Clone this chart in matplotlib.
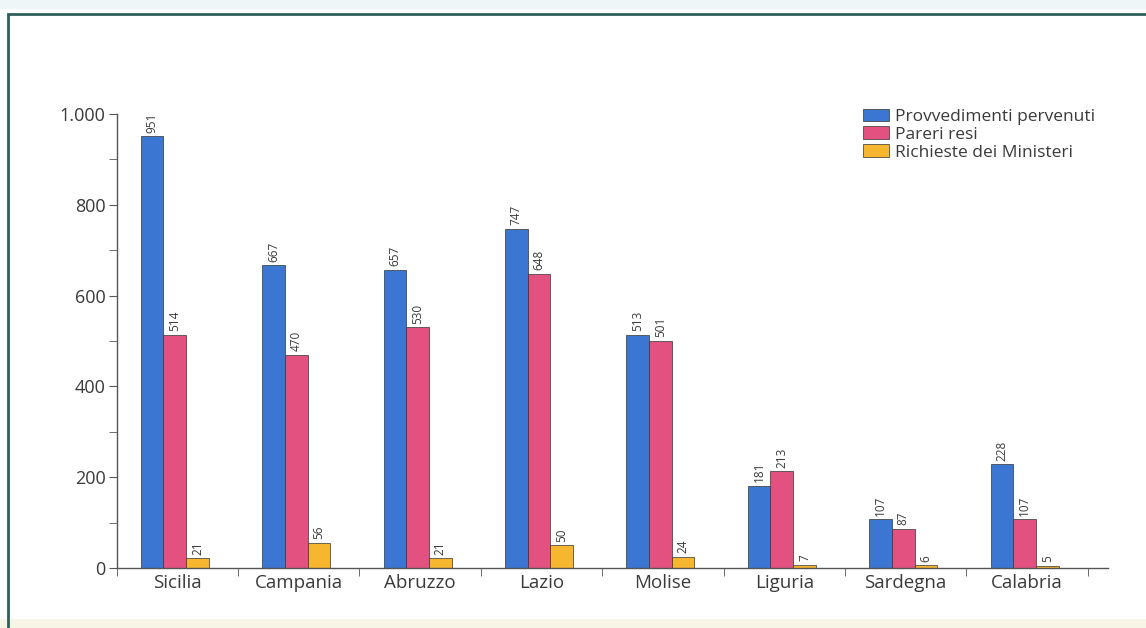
import matplotlib
matplotlib.use("Agg")
import matplotlib.pyplot as plt
from matplotlib.patches import Rectangle
from matplotlib.ticker import MultipleLocator, FixedLocator, FuncFormatter
import numpy as np

categories = ["Sicilia", "Campania", "Abruzzo", "Lazio", "Molise", "Liguria", "Sardegna", "Calabria"]
provvedimenti = [951, 667, 657, 747, 513, 181, 107, 228]
pareri = [514, 470, 530, 648, 501, 213, 87, 107]
richieste = [21, 56, 21, 50, 24, 7, 6, 5]
series_names = ["Provvedimenti pervenuti", "Pareri resi", "Richieste dei Ministeri"]
colors = ["#3b76d2", "#e2517f", "#f6b62f"]

plt.rcParams['font.family'] = ['Open Sans', 'DejaVu Sans']
text_color = "#3a3a3a"

fig = plt.figure(figsize=(11.46, 6.28), dpi=100)
fig.patch.set_facecolor("white")

# outer frame
fig.add_artist(Rectangle((0, 0.985), 1, 0.015, transform=fig.transFigure, facecolor="#eef6f8", edgecolor="none"))
fig.add_artist(Rectangle((0, 0.0), 1, 0.014, transform=fig.transFigure, facecolor="#f7f6e6", edgecolor="none"))
fig.add_artist(Rectangle((8/1146, -0.1), 1.2, 1.1 - 14/628, transform=fig.transFigure, facecolor="none",
                         edgecolor="#2f5f5a", linewidth=2.0))

step = 121.4
left_px, right_px = 116.5, 1108
ax = fig.add_axes([left_px/1146, 1-568/628, (right_px-left_px)/1146, (568-114)/628])
x = np.arange(len(categories))
w = 0.187
data = [provvedimenti, pareri, richieste]
for i, (vals, c, name) in enumerate(zip(data, colors, series_names)):
    pos = x - 0.02 + (i - 1) * w
    ax.bar(pos, vals, width=w, color=c, edgecolor="#333333", linewidth=0.5, label=name)
    for p, v in zip(pos, vals):
        ax.text(p, v + 8, str(v), rotation=90, ha="center", va="bottom", fontsize=8.5, color=text_color)

ax.set_xlim(-0.5, (right_px-left_px)/step - 0.5)
ax.set_ylim(0, 1000)
for s in ["top", "right"]:
    ax.spines[s].set_visible(False)
for s in ["left", "bottom"]:
    ax.spines[s].set_color("#555555")
    ax.spines[s].set_linewidth(1.0)

ax.yaxis.set_major_locator(MultipleLocator(200))
ax.yaxis.set_minor_locator(MultipleLocator(100))
ax.yaxis.set_major_formatter(FuncFormatter(lambda v, p: f"{int(v):,}".replace(",", ".")))
ax.tick_params(axis="y", which="major", length=6, color="#555555", labelsize=13, labelcolor=text_color, pad=2)
ax.tick_params(axis="y", which="minor", length=6, color="#555555")

ax.set_xticks(x)
ax.set_xticklabels(categories)
ax.tick_params(axis="x", which="major", length=0, labelsize=13.5, labelcolor=text_color, pad=4)
ax.xaxis.set_minor_locator(FixedLocator(np.arange(len(categories) + 1) - 0.5))
ax.tick_params(axis="x", which="minor", length=6, color="#555555", direction="out")

leg = ax.legend(loc="upper left", bbox_to_anchor=((854-left_px)/(right_px-left_px), 1.0 + (114-100)/454),
                frameon=False, fontsize=12.5, handlelength=1.5, handleheight=0.75, handletextpad=0.35,
                labelspacing=0.08, borderpad=0)
for t in leg.get_texts():
    t.set_color(text_color)

fig.savefig("out.png", dpi=100)
